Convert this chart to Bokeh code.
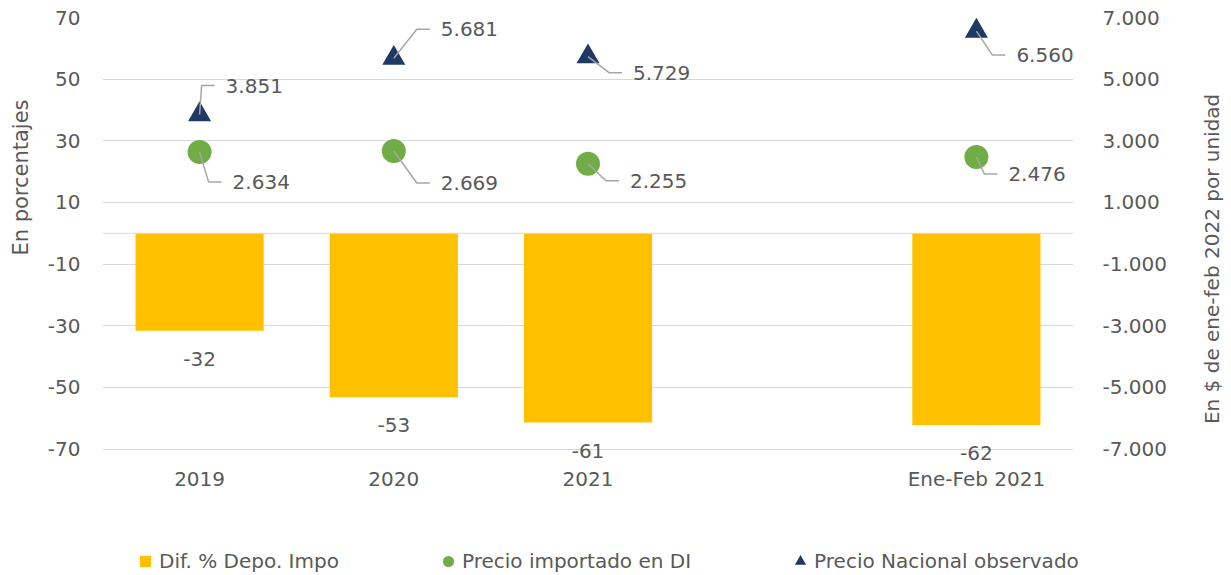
import math
from bokeh.plotting import figure
from bokeh.layouts import row, column
from bokeh.models import Range1d, LinearAxis, FixedTicker, Span, Legend, LegendItem
from bokeh.embed import file_html
from bokeh.resources import INLINE
from bokeh.core.properties import value

# ---------------- data ----------------
axis_slots = ["2019", "2020", "2021", "", "Ene-Feb 2021"]
periods = ["2019", "2020", "2021", "Ene-Feb 2021"]
dif_pct = [-31.6, -53.2, -61.4, -62.2]
precio_importado = [2634, 2669, 2255, 2476]
precio_nacional = [3851, 5681, 5729, 6560]
left_ticks = [-70, -50, -30, -10, 10, 30, 50, 70]
left_tick_labels = ["-70", "-50", "-30", "-10", "10", "30", "50", "70"]
right_ticks = [-7000, -5000, -3000, -1000, 1000, 3000, 5000, 7000]
right_tick_labels = ["-7.000", "-5.000", "-3.000", "-1.000", "1.000", "3.000", "5.000", "7.000"]
series_names = ["Dif. % Depo. Impo", "Precio importado en DI", "Precio Nacional observado"]
left_title = "En porcentajes"
right_title = "En $ de ene-feb 2022 por unidad"

# ---------------- style ----------------
FONT = "DejaVu Sans"
TEXT = "#595959"
GRID = "#D9D9D9"
BAR_C = "#FFC000"
CIRC_C = "#70AD47"
TRI_C = "#1F3864"
LEAD_C = "#A6A6A6"
TOTAL_W, TOTAL_H = 1231, 575
LEFT_W, RIGHT_W = 40, 41
MAIN_W = TOTAL_W - LEFT_W - RIGHT_W
MAIN_H, LEG_H = 500, 75
BL, BR, BT, BB = 62, 117, 17, 36
FW, FH = MAIN_W - BL - BR, MAIN_H - BT - BB
L_RANGE = (-75, 70)
R_RANGE = (-7500, 7000)
# label offsets in pixels (dx right, dy down)
tri_off = [(26, -29), (47, -29), (45, 16), (40, 24)]
circ_off = [(33, 30), (47, 32), (42, 17), (32, 17)]


def bare(fig):
    fig.outline_line_color = None
    fig.xgrid.grid_line_color = None
    fig.ygrid.grid_line_color = None
    return fig


p = figure(width=MAIN_W, height=MAIN_H, output_backend="svg", toolbar_location=None,
           x_range=Range1d(0, len(axis_slots)), y_range=Range1d(*L_RANGE),
           min_border_left=BL, min_border_right=BR, min_border_top=BT, min_border_bottom=BB)
p.extra_y_ranges = {"right": Range1d(*R_RANGE)}
p.outline_line_color = None
p.xgrid.grid_line_color = None
p.ygrid.grid_line_color = GRID
p.ygrid.grid_line_width = 1
p.ygrid.ticker = FixedTicker(ticks=left_ticks)

xpos = {s: i + 0.5 for i, s in enumerate(axis_slots)}
xs = [xpos[s] for s in periods]


def style_axis(ax):
    ax.axis_line_color = None
    ax.major_tick_line_color = None
    ax.minor_tick_line_color = None
    ax.major_tick_out = 0
    ax.major_tick_in = 0
    ax.major_label_text_font = FONT
    ax.major_label_text_font_size = "20px"
    ax.major_label_text_color = TEXT


xa = p.xaxis[0]
style_axis(xa)
xa.ticker = FixedTicker(ticks=[xpos[s] for s in periods])
xa.major_label_overrides = {xpos[s]: s for s in periods}
xa.major_label_standoff = 2

ya = p.yaxis[0]
style_axis(ya)
ya.ticker = FixedTicker(ticks=left_ticks)
ya.major_label_overrides = {t: l for t, l in zip(left_ticks, left_tick_labels)}
ya.major_label_standoff = 22

ra = LinearAxis(y_range_name="right")
style_axis(ra)
ra.ticker = FixedTicker(ticks=right_ticks)
ra.major_label_overrides = {t: l for t, l in zip(right_ticks, right_tick_labels)}
ra.major_label_standoff = 29
p.add_layout(ra, "right")

p.add_layout(Span(location=0, dimension="width", line_color=GRID, line_width=1))

# bars
p.vbar(x=xs, top=dif_pct, bottom=0, width=0.66, fill_color=BAR_C, line_color=None)
p.text(x=xs, y=dif_pct, text=[str(round(v)) for v in dif_pct], y_offset=28,
       text_align="center", text_baseline="middle", text_font=value(FONT),
       text_font_size="20px", text_color=TEXT)

# markers
p.scatter(x=xs, y=precio_importado, y_range_name="right", marker="circle",
          size=24, fill_color=CIRC_C, line_color=None)
p.scatter(x=xs, y=precio_nacional, y_range_name="right", marker="triangle",
          size=23, fill_color=TRI_C, line_color=None)

# leader lines + value labels
ux = len(axis_slots) / FW
uy = (R_RANGE[1] - R_RANGE[0]) / FH


def fmt(v):
    return f"{v:,}".replace(",", ".")


for vals, offs in ((precio_nacional, tri_off), (precio_importado, circ_off)):
    lx, ly = [], []
    for x, v, (dx, dy) in zip(xs, vals, offs):
        lx.append([x, x + (dx - 24) * ux, x + (dx - 11) * ux])
        ly.append([v, v - dy * uy, v - dy * uy])
    p.multi_line(xs=lx, ys=ly, y_range_name="right", line_color=LEAD_C, line_width=1.5)
    p.text(x=xs, y=vals, text=[fmt(v) for v in vals], y_range_name="right",
           x_offset=[o[0] for o in offs], y_offset=[o[1] for o in offs],
           text_align="left", text_baseline="middle", text_font=value(FONT),
           text_font_size="20px", text_color=TEXT)

# axis titles (separate narrow figures so they can sit where the original has them)
lt = bare(figure(width=LEFT_W, height=MAIN_H, output_backend="svg", toolbar_location=None,
                 x_range=Range1d(0, LEFT_W), y_range=Range1d(0, MAIN_H), min_border=0,
                 x_axis_location=None, y_axis_location=None))
lt.text(x=[20], y=[MAIN_H - 179], text=[left_title], angle=math.pi / 2,
        text_align="center", text_baseline="middle", text_font=value(FONT),
        text_font_size="21px", text_color=TEXT)

rt = bare(figure(width=RIGHT_W, height=MAIN_H, output_backend="svg", toolbar_location=None,
                 x_range=Range1d(0, RIGHT_W), y_range=Range1d(0, MAIN_H), min_border=0,
                 x_axis_location=None, y_axis_location=None))
rt.text(x=[21], y=[MAIN_H - 270], text=[right_title], angle=math.pi / 2,
        text_align="center", text_baseline="middle", text_font=value(FONT),
        text_font_size="20px", text_color=TEXT)

# legend figure
lf = bare(figure(width=TOTAL_W, height=LEG_H, output_backend="svg", toolbar_location=None,
                 x_range=Range1d(0, 1), y_range=Range1d(0, 1), min_border=0,
                 x_axis_location=None, y_axis_location=None))
nan = float("nan")
r_sq = lf.scatter(x=[nan], y=[nan], marker="square", fill_color=BAR_C, line_color=None)
r_ci = lf.scatter(x=[nan], y=[nan], marker="circle", fill_color=CIRC_C, line_color=None)
r_tr = lf.scatter(x=[nan], y=[nan], marker="triangle", fill_color=TRI_C, line_color=None)
legend = Legend(items=[LegendItem(label=series_names[0], renderers=[r_sq]),
                       LegendItem(label=series_names[1], renderers=[r_ci]),
                       LegendItem(label=series_names[2], renderers=[r_tr])],
                orientation="horizontal", location=(131, 0),
                glyph_width=28, glyph_height=28, label_standoff=0, padding=0,
                spacing=95, border_line_color=None, background_fill_alpha=0,
                label_text_font=FONT, label_text_font_size="20px", label_text_color=TEXT)
lf.add_layout(legend)

layout = column(row(lt, p, rt), lf)
open("out.html", "w").write(file_html(layout, INLINE))
